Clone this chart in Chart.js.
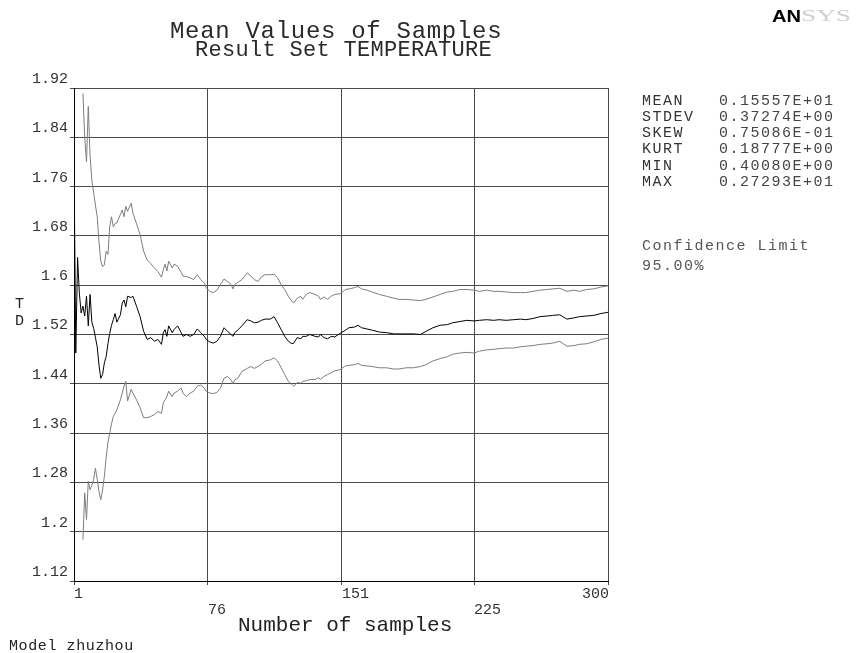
<!DOCTYPE html>
<html>
<head>
<meta charset="utf-8">
<script src="https://cdn.jsdelivr.net/npm/chart.js@4.4.1/dist/chart.umd.min.js"></script>
<style>
  html, body { margin: 0; padding: 0; background: #fff; }
  #wrap { position: relative; width: 858px; height: 653px; overflow: hidden; }
  canvas { position: absolute; left: 0; top: 0; }
  .t { position: absolute; white-space: pre; font-family: "Liberation Mono", monospace; line-height: 1; color: #222; }
</style>
</head>
<body>
<div id="wrap">
  <canvas id="c" width="858" height="653"></canvas>
  <div class="t" id="title" style="left:170px; top:19.8px; font-size:24px; letter-spacing:0.7px; color:#2a2a2a;">Mean Values of Samples</div>
  <div class="t" id="subtitle" style="left:195px; top:40.4px; font-size:22px; letter-spacing:0.3px; color:#2a2a2a;">Result Set TEMPERATURE</div>
  <div class="t" style="left:772px; top:7.7px; font-family:'Liberation Sans',sans-serif; font-weight:bold; font-size:16.5px; color:#000; transform:scaleX(1.22); transform-origin:left;">AN</div>
  <div class="t" style="left:801px; top:7.9px; font-family:'Liberation Serif',serif; font-size:16.5px; color:#cfcfcf; transform:scaleX(1.65); transform-origin:left;">SYS</div>
  <div id="stats"></div>
  <div class="t" style="left:642px; top:239.2px; font-size:15px; letter-spacing:1.5px; color:#555;">Confidence Limit</div>
  <div class="t" style="left:642px; top:258.7px; font-size:15px; letter-spacing:1.5px; color:#555;">95.00%</div>
  <div class="t" style="left:15px; top:296.5px; font-size:15px;">T</div>
  <div class="t" style="left:15px; top:313.5px; font-size:15px;">D</div>
  <div class="t" style="left:238px; top:614.9px; font-size:21px; color:#222;">Number of samples</div>
  <div class="t" style="left:9px; top:638.5px; font-size:15px; letter-spacing:0.6px; color:#222;">Model zhuzhou</div>
</div>
<script>
// ---- data ----
const samples = [
  1,2,3,4,5,6,7,8,9,10,
  11,12,13,14,15,16,17,18,19,20,
  21,22,23,24,25,27,28,29,30,31,
  33,34,36,38,40,42,44,46,48,50,
  51,52,53,54,56,57,59,61,62,64,
  66,68,70,72,74,75,77,79,81,83,
  85,87,89,90,91,93,95,98,100,102,
  104,106,108,111,113,115,117,119,121,123,
  124,126,128,129,131,133,136,138,139,141,
  143,145,147,150,153,155,158,160,162,165,
  168,172,176,180,183,187,191,195,198,202,
  206,210,213,217,221,225,228,232,236,239,
  243,247,251,254,258,262,266,269,273,277,
  281,284,288,292,296,300
];
const upperLimit = [
  null,null,null,null,null,1.911,1.84,1.80,1.890,1.81,
  1.77,1.75,1.73,1.711,1.67,1.639,1.630,1.633,1.655,1.650,
  1.695,1.711,1.695,1.70,1.701,1.715,1.722,1.711,1.728,1.72,
  1.733,1.717,1.700,1.682,1.655,1.641,1.635,1.628,1.622,1.613,
  1.625,1.634,1.623,1.639,1.628,1.634,1.631,1.621,1.615,1.614,
  1.612,1.609,1.617,1.609,1.603,1.596,1.590,1.588,1.592,1.601,
  1.610,1.606,1.601,1.594,1.601,1.605,1.609,1.620,1.615,1.609,
  1.606,1.614,1.617,1.617,1.618,1.612,1.601,1.593,1.582,1.574,
  1.571,1.579,1.582,1.577,1.585,1.588,1.585,1.582,1.577,1.581,
  1.577,1.582,1.585,1.586,1.593,1.594,1.596,1.598,1.594,1.592,
  1.589,1.585,1.582,1.579,1.577,1.577,1.576,1.575,1.577,1.581,
  1.585,1.589,1.590,1.593,1.593,1.592,1.590,1.592,1.590,1.590,
  1.589,1.588,1.588,1.588,1.590,1.592,1.593,1.594,1.595,1.590,
  1.592,1.590,1.593,1.594,1.597,1.599
];
const meanValues = [
  1.80,1.49,1.645,1.587,1.555,1.566,1.550,1.582,1.534,1.585,
  1.540,1.530,1.515,1.500,1.470,1.449,1.455,1.474,1.484,1.505,
  1.522,1.535,1.544,1.554,1.540,1.552,1.571,1.576,1.565,1.582,
  1.580,1.582,1.566,1.549,1.525,1.512,1.515,1.509,1.512,1.504,
  1.523,1.528,1.517,1.534,1.523,1.528,1.534,1.523,1.517,1.520,
  1.517,1.520,1.529,1.523,1.517,1.512,1.508,1.506,1.509,1.517,
  1.531,1.525,1.520,1.517,1.523,1.528,1.534,1.544,1.542,1.539,
  1.540,1.543,1.545,1.545,1.549,1.539,1.528,1.517,1.509,1.505,
  1.506,1.515,1.513,1.517,1.517,1.520,1.517,1.516,1.520,1.515,
  1.513,1.517,1.516,1.522,1.527,1.531,1.532,1.535,1.531,1.529,
  1.527,1.524,1.523,1.521,1.521,1.521,1.521,1.520,1.525,1.531,
  1.535,1.536,1.539,1.541,1.543,1.542,1.543,1.544,1.543,1.544,
  1.543,1.544,1.545,1.544,1.546,1.549,1.550,1.551,1.552,1.545,
  1.547,1.549,1.550,1.551,1.554,1.556
];
const lowerLimit = [
  null,null,null,null,null,1.187,1.263,1.220,1.282,1.268,
  1.275,1.285,1.303,1.285,1.265,1.252,1.268,1.290,1.320,1.345,
  1.360,1.375,1.387,1.392,1.398,1.414,1.425,1.436,1.444,1.412,
  1.431,1.425,1.414,1.401,1.385,1.385,1.387,1.390,1.395,1.392,
  1.409,1.414,1.419,1.428,1.419,1.425,1.428,1.433,1.425,1.419,
  1.425,1.428,1.436,1.438,1.433,1.428,1.425,1.424,1.426,1.433,
  1.449,1.452,1.446,1.440,1.446,1.450,1.460,1.465,1.468,1.465,
  1.468,1.472,1.477,1.479,1.482,1.477,1.466,1.455,1.444,1.439,
  1.436,1.442,1.441,1.444,1.445,1.447,1.447,1.450,1.447,1.452,
  1.455,1.458,1.461,1.463,1.469,1.470,1.471,1.473,1.470,1.469,
  1.468,1.466,1.466,1.464,1.464,1.466,1.466,1.468,1.471,1.477,
  1.481,1.484,1.488,1.490,1.491,1.490,1.493,1.495,1.496,1.497,
  1.498,1.498,1.500,1.501,1.502,1.504,1.505,1.506,1.509,1.501,
  1.502,1.504,1.505,1.508,1.512,1.514
];
const yTickVals = [1.12,1.2,1.28,1.36,1.44,1.52,1.6,1.68,1.76,1.84,1.92];
const yTickLabels = ['1.12','1.2','1.28','1.36','1.44','1.52','1.6','1.68','1.76','1.84','1.92'];
const xTickVals = [1,76,151,225,300];
const xTickLabels = ['1','76','151','225','300'];
const statNames = ['MEAN','STDEV','SKEW','KURT','MIN','MAX'];
const statValues = ['0.15557E+01','0.37274E+00','0.75086E-01','0.18777E+00','0.40080E+00','0.27293E+01'];

// ---- stats block ----
const statsEl = document.getElementById('stats');
statNames.forEach((n, i) => {
  const top = 93.7 + i * 16.2;
  const a = document.createElement('div');
  a.className = 't'; a.textContent = n;
  a.style.cssText = `left:642px; top:${top}px; font-size:15px; letter-spacing:1.5px; color:#333;`;
  const b = document.createElement('div');
  b.className = 't'; b.textContent = statValues[i];
  b.style.cssText = `left:719px; top:${top}px; font-size:15px; letter-spacing:1.5px; color:#444;`;
  statsEl.appendChild(a); statsEl.appendChild(b);
});

function toPoints(vals) {
  const pts = [];
  vals.forEach((v, i) => { if (v !== null) pts.push({ x: samples[i], y: v }); });
  return pts;
}

const xLabelPlugin = {
  id: 'xLabels',
  afterDraw(chart) {
    const sc = chart.scales.x, ctx = chart.ctx;
    ctx.save();
    ctx.font = '15px "Liberation Mono"';
    ctx.fillStyle = '#333';
    ctx.textBaseline = 'alphabetic';
    xTickVals.forEach((v, i) => {
      const px = sc.getPixelForValue(v);
      const last = i === xTickVals.length - 1;
      ctx.textAlign = last ? 'right' : 'left';
      const y = sc.top + (i % 2 ? 33 : 17);
      ctx.fillText(xTickLabels[i], last ? px + 1 : px, y);
    });
    ctx.restore();
  }
};

new Chart(document.getElementById('c'), {
  type: 'line',
  data: {
    datasets: [
      { label: 'Upper', data: toPoints(upperLimit), borderColor: '#7d7d7d', borderWidth: 1, pointRadius: 0, tension: 0, fill: false },
      { label: 'Mean', data: toPoints(meanValues), borderColor: '#000000', borderWidth: 1, pointRadius: 0, tension: 0, fill: false },
      { label: 'Lower', data: toPoints(lowerLimit), borderColor: '#7d7d7d', borderWidth: 1, pointRadius: 0, tension: 0, fill: false }
    ]
  },
  options: {
    responsive: false,
    animation: false,
    layout: { padding: { left: 0, top: 88, right: 250, bottom: 0 } },
    plugins: { legend: { display: false }, tooltip: { enabled: false }, title: { display: false } },
    scales: {
      x: {
        type: 'linear', min: 1, max: 300,
        afterBuildTicks: (s) => { s.ticks = xTickVals.map(v => ({ value: v })); },
        afterFit: (s) => { s.height = 72; },
        ticks: { display: false },
        grid: { color: '#4a4a4a', lineWidth: 1, drawTicks: true, tickLength: 4 },
        border: { color: '#000', width: 1 }
      },
      y: {
        type: 'linear', min: 1.12, max: 1.92,
        afterBuildTicks: (s) => { s.ticks = yTickVals.map(v => ({ value: v })); },
        afterFit: (s) => { s.width = 74; },
        ticks: {
          callback: (v, i) => yTickLabels[i],
          font: { family: 'Liberation Mono', size: 15 },
          color: '#333', padding: 2, labelOffset: -9
        },
        grid: { color: '#4a4a4a', lineWidth: 1, drawTicks: true, tickLength: 4 },
        border: { color: '#000', width: 1 }
      }
    }
  },
  plugins: [xLabelPlugin]
});
</script>
</body>
</html>
